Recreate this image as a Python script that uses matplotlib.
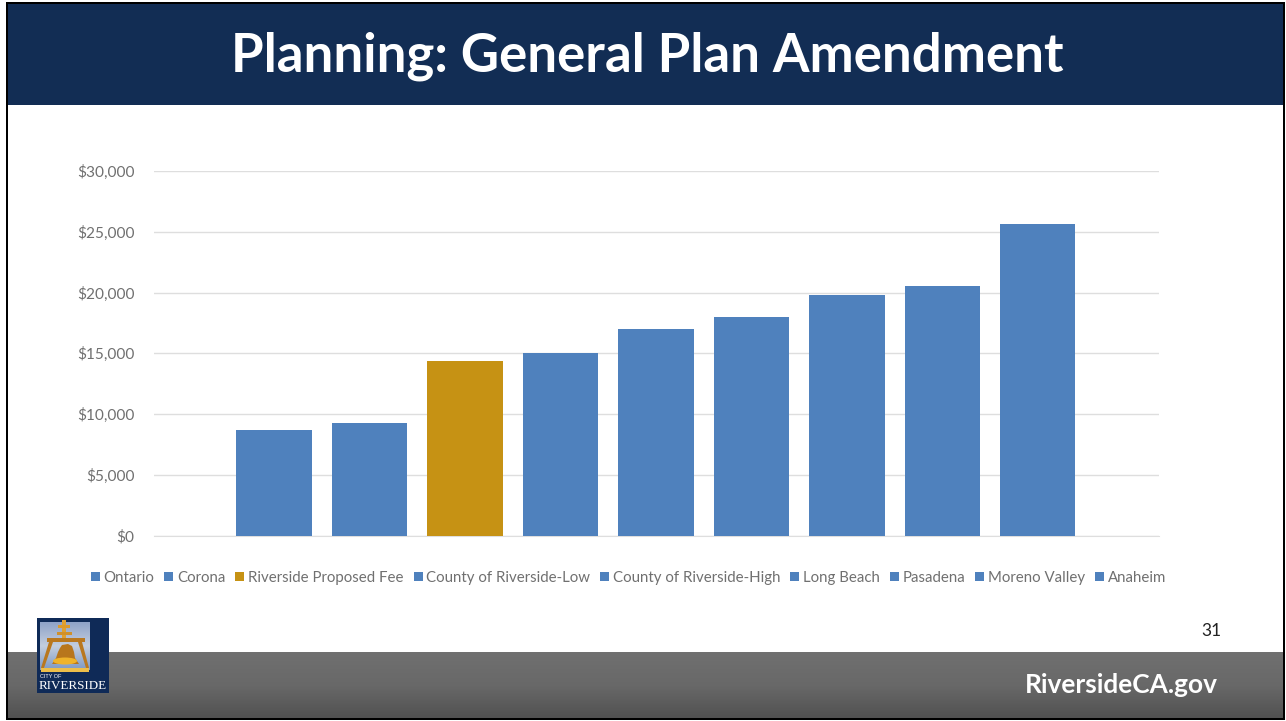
import numpy as np
import matplotlib
matplotlib.use('Agg')
import matplotlib.pyplot as plt
from matplotlib.colors import LinearSegmentedColormap
from matplotlib.patches import Rectangle, Polygon, Ellipse
from matplotlib.ticker import FuncFormatter

W, H = 1286, 721

cities = ['Ontario', 'Corona', 'Riverside Proposed Fee', 'County of Riverside-Low',
          'County of Riverside-High', 'Long Beach', 'Pasadena', 'Moreno Valley', 'Anaheim']
fees = [8700, 9250, 14350, 15000, 17000, 17950, 19800, 20550, 25650]
highlight = 'Riverside Proposed Fee'
y_ticks = [0, 5000, 10000, 15000, 20000, 25000, 30000]

NAVY = '#122D54'
BLUE = '#4F81BD'
GOLD = '#C69214'
GREY = '#707070'

fig = plt.figure(figsize=(W / 100, H / 100), dpi=100, facecolor='white')

# slide background, in pixel coordinates
bg = fig.add_axes([0, 0, 1, 1])
bg.axis('off')

ramp = np.linspace(0, 1, 68).reshape(-1, 1)
bg.imshow(ramp, extent=(0, W, 720, 652), aspect='auto', zorder=1,
          cmap=LinearSegmentedColormap.from_list('footer', ['#707070', '#686868', '#505050']))
seal = np.linspace(0, 1, 50).reshape(-1, 1)
bg.imshow(seal, extent=(40, 90, 670, 622), aspect='auto', zorder=4,
          cmap=LinearSegmentedColormap.from_list('seal', ['#8FA3C8', '#C3CEDF', '#7F9AC4']))
bg.set_xlim(0, W)
bg.set_ylim(H, 0)

bg.add_patch(Rectangle((0, 0), W, 105, color=NAVY, lw=0))

# black slide border, with a white margin outside it
bg.add_patch(Rectangle((6, 2), W - 9, 2, color='black', lw=0, zorder=5))
bg.add_patch(Rectangle((6, 2), 2, H - 3, color='black', lw=0, zorder=5))
bg.add_patch(Rectangle((W - 3, 2), 2, H - 3, color='black', lw=0, zorder=5))
bg.add_patch(Rectangle((6, H - 3), W - 9, 2, color='black', lw=0, zorder=5))
bg.add_patch(Rectangle((0, 0), 6, H, color='white', lw=0, zorder=4))
bg.add_patch(Rectangle((0, 0), W, 2, color='white', lw=0, zorder=4))
bg.add_patch(Rectangle((W - 1, 0), 1, H, color='white', lw=0, zorder=4))

bg.text(647, 56.5, 'Planning: General Plan Amendment', color='white', fontsize=38,
        fontweight='bold', family='Lato', ha='center', va='center')
bg.text(1121.5, 685, 'RiversideCA.gov', color='white', fontsize=18.9, fontweight='bold',
        family='Lato', ha='center', va='center', zorder=3)
bg.text(1211, 631, '31', color='#222222', fontsize=12.5, family='Lato', ha='center', va='center')

# city seal
bg.add_patch(Rectangle((37, 618), 72, 75, color='#0F2A57', lw=0, zorder=3))
beam = '#B9781F'
bg.add_patch(Rectangle((62, 620), 4, 20, color='#E0A030', lw=0, zorder=6))
bg.add_patch(Rectangle((58, 625), 12, 3, color='#DB9A2C', lw=0, zorder=6))
bg.add_patch(Rectangle((57, 632), 15, 3, color='#D0902A', lw=0, zorder=6))
bg.add_patch(Rectangle((47, 638), 38, 4, color=beam, lw=0, zorder=6))
bg.add_patch(Polygon([(49, 642), (53, 642), (44, 668), (41, 668)], color=beam, lw=0, zorder=6))
bg.add_patch(Polygon([(78, 642), (82, 642), (89, 668), (86, 668)], color=beam, lw=0, zorder=6))
bg.add_patch(Polygon([(60, 648), (62, 645), (68, 644), (72, 646), (74, 652), (75, 658), (79, 664),
                      (52, 664), (56, 658), (58, 652)], color='#B8761C', lw=0, zorder=6))
bg.add_patch(Ellipse((65, 661), 24, 7, color='#EFB32A', lw=0, zorder=7))
bg.add_patch(Rectangle((41, 668), 48, 4, color='#EDBE4A', lw=0, zorder=7))
bg.text(40, 676, 'CITY OF', color='white', fontsize=4, family='Liberation Sans', va='center', zorder=7)
bg.text(73, 686, 'RIVERSIDE', color='white', fontsize=9.4, family='Liberation Serif',
        ha='center', va='center', zorder=7)

# fee chart
left, right, top, bottom = 154, 1159, 171, 535.5
ax = fig.add_axes([left / W, 1 - bottom / H, (right - left) / W, (bottom - top) / H])
ax.patch.set_alpha(0)
x = np.arange(len(cities))
for i, city in enumerate(cities):
    ax.bar(x[i], fees[i], width=0.79, color=GOLD if city == highlight else BLUE,
           label=city, zorder=3)
ax.set_xlim(-1.257, 9.27)
ax.set_ylim(0, 30000)
ax.set_yticks(y_ticks)
ax.yaxis.set_major_formatter(FuncFormatter(lambda v, _: f'${v:,.0f}'))
ax.tick_params(axis='y', length=0, pad=14, labelsize=11.1, labelcolor=GREY)
ax.set_xticks([])
for label in ax.get_yticklabels():
    label.set_family('Lato')
ax.grid(axis='y', color='#DEDEDE', lw=1, zorder=0)
for side in ['top', 'left', 'right']:
    ax.spines[side].set_visible(False)
ax.spines['bottom'].set_color('#DEDEDE')

leg = fig.legend(loc='center', bbox_to_anchor=(628.5 / W, 1 - 578 / H), ncol=9, frameon=False,
                 prop={'family': 'Lato', 'size': 10.8}, labelcolor=GREY, handlelength=0.6,
                 handleheight=0.6, handletextpad=0.25, columnspacing=0.66, borderpad=0)

fig.savefig('out.png', dpi=100)
